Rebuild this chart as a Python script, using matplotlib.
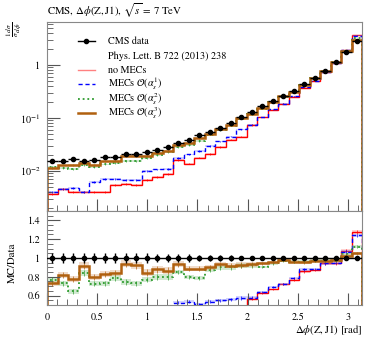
import numpy as np
import matplotlib
matplotlib.use("Agg")
import matplotlib.pyplot as plt
from matplotlib.lines import Line2D
from matplotlib.ticker import FixedLocator, MultipleLocator, FuncFormatter, LogLocator, NullFormatter

plt.rcParams.update({
    "font.family": "STIXGeneral",
    "mathtext.fontset": "stix",
    "font.size": 7,
    "axes.edgecolor": "#888888",
    "axes.linewidth": 0.8,
    "xtick.color": "#555555",
    "ytick.color": "#555555",
    "xtick.labelcolor": "black",
    "ytick.labelcolor": "black",
})

# ---------- values ----------
n_bins = 30
cms_data = [0.0156, 0.0156, 0.0168, 0.0152, 0.0161, 0.0182, 0.0182, 0.0207, 0.0209, 0.0231,
            0.0252, 0.0280, 0.0333, 0.0385, 0.0472, 0.0552, 0.0656, 0.0794, 0.106, 0.130,
            0.165, 0.212, 0.260, 0.327, 0.438, 0.576, 0.780, 1.15, 1.78, 2.87]
data_relerr = [0.05, 0.05, 0.05, 0.05, 0.05, 0.05, 0.05, 0.05, 0.05, 0.05,
               0.04, 0.04, 0.04, 0.04, 0.035, 0.03, 0.03, 0.03, 0.025, 0.02,
               0.02, 0.02, 0.015, 0.015, 0.015, 0.015, 0.01, 0.01, 0.01, 0.01]

no_mecs = [0.0037, 0.0045, 0.0040, 0.0040, 0.0040, 0.0040, 0.0054, 0.0056, 0.0054, 0.0068,
           0.0078, 0.0088, 0.0160, 0.0138, 0.0178, 0.0210, 0.0285, 0.0388, 0.0445, 0.0735,
           0.104, 0.141, 0.187, 0.252, 0.375, 0.501, 0.736, 1.086, 1.92, 3.67]
mecs_as1 = [0.0040, 0.0046, 0.0048, 0.0040, 0.0063, 0.0070, 0.0070, 0.0068, 0.0068, 0.0100,
            0.0107, 0.0110, 0.0175, 0.0205, 0.0240, 0.0295, 0.0360, 0.0445, 0.0610, 0.0749,
            0.105, 0.146, 0.187, 0.257, 0.385, 0.507, 0.736, 1.09, 1.90, 3.56]
mecs_as2 = [0.0120, 0.01139, 0.01084, 0.01277, 0.01169, 0.01329, 0.01431, 0.0154, 0.01526, 0.01779,
            0.02016, 0.0224, 0.0283, 0.0308, 0.0371, 0.04825, 0.05904, 0.07146, 0.0971, 0.1196,
            0.1495, 0.2001, 0.2522, 0.3139, 0.4205, 0.5587, 0.7566, 1.1155, 1.851, 3.214]
mecs_as3 = [0.01139, 0.01271, 0.01304, 0.01398, 0.01288, 0.01511, 0.01529, 0.01946, 0.01923, 0.01952,
            0.02218, 0.02425, 0.0312, 0.03403, 0.04172, 0.04968, 0.06127, 0.07273, 0.09816, 0.1214,
            0.1558, 0.2025, 0.2548, 0.3139, 0.4183, 0.5587, 0.7566, 1.127, 1.825, 3.014]
mc_relerr = [0.04] * 12 + [0.03] * 8 + [0.015] * 10

series = [
    ("no MECs", no_mecs, "#ff0000", "#ff8080", "-", 1.0),
    (r"MECs $\mathcal{O}$($\alpha_s^1$)", mecs_as1, "#0000ff", "#8080ff", (0, (3, 2)), 1.0),
    (r"MECs $\mathcal{O}$($\alpha_s^2$)", mecs_as2, "#2e9b2e", "#80c080", (0, (1, 1.6)), 1.3),
    (r"MECs $\mathcal{O}$($\alpha_s^3$)", mecs_as3, "#b0600f", "#d8a070", "-", 1.8),
]

edges = np.linspace(0, np.pi, n_bins + 1)
centers = 0.5 * (edges[:-1] + edges[1:])
halfw = 0.5 * (edges[1] - edges[0])
data = np.array(cms_data)
derr = np.array(data_relerr) * data

fig = plt.figure(figsize=(3.74, 3.37), dpi=100)
ax = fig.add_axes([0.126, 0.374, 0.842, 0.561])
axr = fig.add_axes([0.126, 0.095, 0.842, 0.279], sharex=ax)

# ---------- main panel ----------
for label, vals, col, band, ls, lw in series:
    v = np.array(vals)
    e = np.array(mc_relerr) * v
    ax.stairs(v + e, edges, baseline=v - e, fill=True, color=band, alpha=0.35, lw=0)
    ax.errorbar(centers, v, yerr=e, fmt="none", ecolor=col, elinewidth=0.6, alpha=0.8)
    ax.stairs(v, edges, color=col, ls=ls, lw=lw)

ax.errorbar(centers, data, xerr=halfw, yerr=derr, fmt="o", color="black",
            ms=3, elinewidth=1.0, capsize=0, zorder=5)

ax.set_yscale("log")
ax.set_ylim(1.76e-3, 6.5)
ax.set_xlim(0, np.pi)


def log_fmt(y, pos):
    if abs(y - 1) < 1e-9:
        return "1"
    return r"$10^{%d}$" % int(round(np.log10(y)))


ax.yaxis.set_major_locator(FixedLocator([1e-2, 1e-1, 1]))
ax.yaxis.set_major_formatter(FuncFormatter(log_fmt))
ax.yaxis.set_minor_locator(LogLocator(base=10, subs=np.arange(2, 10), numticks=20))
ax.yaxis.set_minor_formatter(NullFormatter())
ax.tick_params(axis="both", which="major", direction="in", length=9, width=0.8,
               top=False, right=False, labelbottom=False)
ax.tick_params(axis="both", which="minor", direction="in", length=4, width=0.6,
               top=False, right=False)

# ---------- legend, one row at a time so all rows share the same pitch ----------
leg_labels = ["CMS data", "Phys. Lett. B 722 (2013) 238"] + [s[0] for s in series]
leg_styles = [("black", "-", 1.0, "o"), None] + \
             [(s[3] if s[0] == "no MECs" else s[2], s[4], s[5], None) for s in series]
row0, pitch = 0.898, 0.076
for k, (lab, sty) in enumerate(zip(leg_labels, leg_styles)):
    yc = row0 - k * pitch
    if sty is not None:
        col, ls, lw, mk = sty
        ax.add_line(Line2D([0.098, 0.152], [yc, yc], transform=ax.transAxes, color=col,
                           ls=ls, lw=lw))
        if mk:
            ax.add_line(Line2D([0.125], [yc], transform=ax.transAxes, color=col,
                               marker=mk, ms=3, lw=0))
    ax.text(0.194, yc - 0.016, lab, transform=ax.transAxes, fontsize=7.3,
            ha="left", va="baseline")

# ---------- ratio panel ----------
axr.axhline(1.0, color="black", lw=1.0, zorder=4)
axr.errorbar(centers, np.ones(n_bins), yerr=np.array(data_relerr), fmt="o", color="black",
             ms=3, elinewidth=1.0, capsize=0, zorder=5)
for label, vals, col, band, ls, lw in series:
    r = np.array(vals) / data
    e = np.array(mc_relerr) * r
    axr.stairs(r + e, edges, baseline=r - e, fill=True, color=band, alpha=0.35, lw=0)
    axr.errorbar(centers, r, yerr=e, fmt="none", ecolor=col, elinewidth=0.6, alpha=0.8)
    axr.stairs(r, edges, color=col, ls=ls, lw=lw)

axr.set_ylim(0.5, 1.5)
axr.set_xlim(0, np.pi)
axr.yaxis.set_major_locator(FixedLocator([0.6, 0.8, 1.0, 1.2, 1.4]))
axr.yaxis.set_major_formatter(FuncFormatter(lambda y, p: "%g" % round(y, 1)))
axr.yaxis.set_minor_locator(MultipleLocator(0.05))
axr.xaxis.set_major_locator(MultipleLocator(0.5))
axr.xaxis.set_major_formatter(FuncFormatter(lambda x, p: "%g" % x))
axr.xaxis.set_minor_locator(MultipleLocator(0.1))
axr.tick_params(axis="both", which="major", direction="in", length=9, width=0.8,
                top=False, right=False, labelsize=7.3, pad=5)
axr.tick_params(axis="both", which="minor", direction="in", length=4, width=0.6,
                top=False, right=False)
ax.tick_params(axis="y", labelsize=7.3, pad=5)

# ---------- labels ----------
fig.text(0.126, 0.955, r"CMS, $\Delta\phi(\mathrm{Z,J1})$, $\sqrt{s}$ = 7 TeV", fontsize=7.8,
         ha="left", va="baseline")
fig.text(0.012, 0.935, r"$\frac{1}{\sigma}\frac{d\sigma}{d\phi}$", fontsize=7.5,
         rotation=90, ha="left", va="top")
fig.text(0.032, 0.22, "MC/Data", fontsize=7.8, rotation=90, ha="center", va="center")
fig.text(0.968, 0.012, r"$\Delta\phi(\mathrm{Z,J1})$ [rad]", fontsize=7.8,
         ha="right", va="baseline")

fig.savefig("out.png", dpi=100)
